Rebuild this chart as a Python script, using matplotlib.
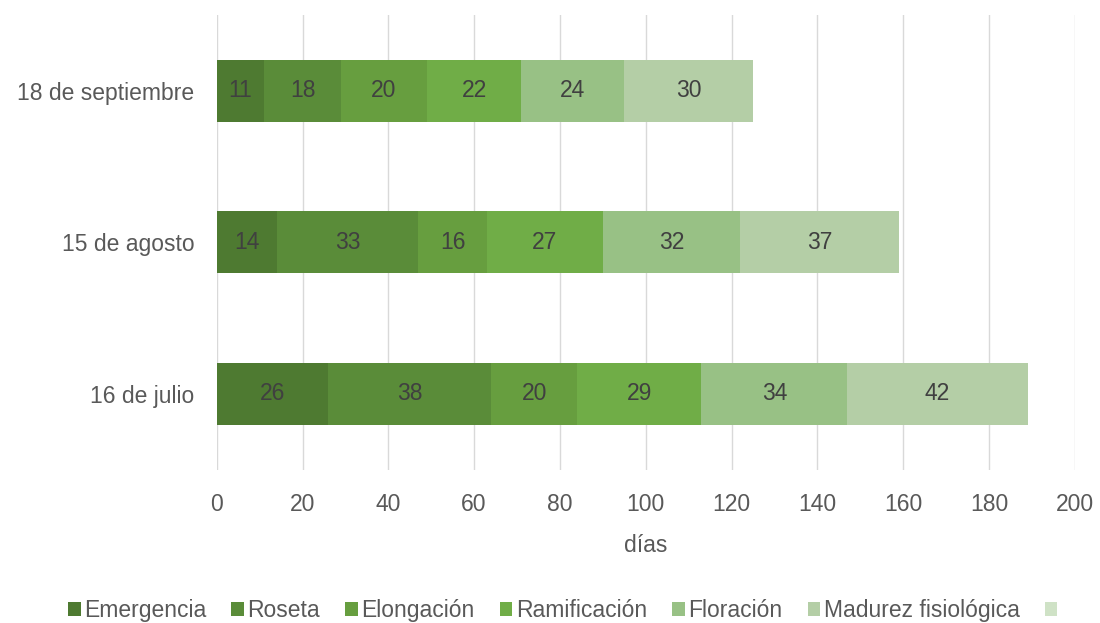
import numpy as np
import matplotlib.pyplot as plt
from matplotlib.patches import Patch

plt.rcParams['font.family'] = ['Liberation Sans', 'DejaVu Sans']

# data
fechas = ["16 de julio", "15 de agosto", "18 de septiembre"]
etapas = ["Emergencia", "Roseta", "Elongación", "Ramificación", "Floración", "Madurez fisiológica", ""]
emergencia = [26, 14, 11]
roseta = [38, 33, 18]
elongacion = [20, 16, 20]
ramificacion = [29, 27, 22]
floracion = [34, 32, 24]
madurez = [42, 37, 30]
series = [emergencia, roseta, elongacion, ramificacion, floracion, madurez]

colores = ["#4E7A31", "#5A8C39", "#679E3F", "#70AD47", "#98C185", "#B4CEA6", "#CFE2C6"]
fs = 16.5

fig = plt.figure(figsize=(11, 6.23), dpi=100)
ax = fig.add_axes([0.197, 0.246, 0.78, 0.73])

y = np.arange(len(fechas))
left = np.zeros(len(fechas))
for vals, c in zip(series, colores):
    bars = ax.barh(y, vals, left=left, height=0.41, color=c, zorder=3)
    ax.bar_label(bars, labels=[str(v) for v in vals], label_type="center",
                 fontsize=fs, color="#404040")
    left += np.array(vals)

ax.set_xlim(0, 200)
ax.set_ylim(-0.5, 2.5)
ax.set_xticks(np.arange(0, 201, 20))
ax.set_yticks(y)
ax.set_yticklabels(fechas)
ax.tick_params(axis="both", length=0, labelsize=fs, labelcolor="#595959")
ax.tick_params(axis="y", pad=16)
ax.tick_params(axis="x", pad=17)
ax.grid(axis="x", color="#D9D9D9", linewidth=1, zorder=0)
for s in ax.spines.values():
    s.set_visible(False)
ax.set_xlabel("días", fontsize=fs, color="#595959", labelpad=13)

handles = [Patch(facecolor=c) for c in colores]
fig.legend(handles, etapas, loc="center", bbox_to_anchor=(0.513, 0.02), ncol=7,
           frameon=False, fontsize=fs, labelcolor="#595959",
           handlelength=0.55, handleheight=0.55, handletextpad=0.15, columnspacing=1.1)

fig.savefig("out.png", dpi=100)
